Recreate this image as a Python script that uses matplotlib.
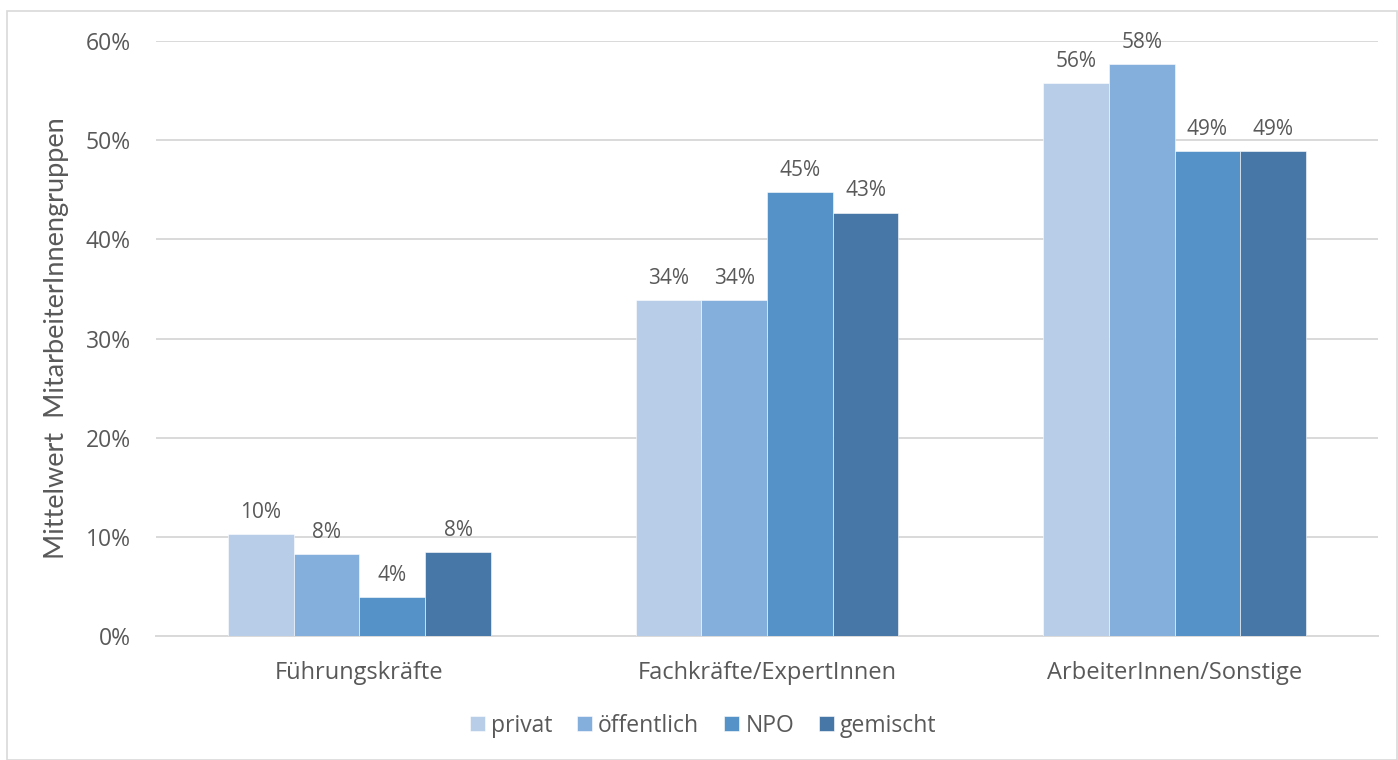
import matplotlib
matplotlib.use("Agg")
import matplotlib.pyplot as plt
from matplotlib.patches import Rectangle
from matplotlib.ticker import FuncFormatter
import numpy as np

plt.rcParams['font.family'] = ['Open Sans', 'DejaVu Sans']

categories = ["Führungskräfte", "Fachkräfte/ExpertInnen", "ArbeiterInnen/Sonstige"]
series = ["privat", "öffentlich", "NPO", "gemischt"]
privat = [10.3, 33.9, 55.8]
oeffentlich = [8.3, 33.9, 57.7]
npo = [3.9, 44.8, 48.9]
gemischt = [8.5, 42.7, 48.9]
values = [privat, oeffentlich, npo, gemischt]
colors = ["#B7CDE8", "#84AEDB", "#5592C8", "#4677A6"]

text_color = "#595959"
grid_color = "#D9D9D9"

fig = plt.figure(figsize=(13.98, 7.6), dpi=100)
ax = fig.add_axes([0.1114, 0.1632, 0.8745, 0.7828])

x = np.arange(len(categories))
group_w = 0.645
bar_w = group_w / len(series)
for i, (name, vals, col) in enumerate(zip(series, values, colors)):
    pos = x - group_w / 2 + bar_w * (i + 0.5)
    bars = ax.bar(pos, vals, width=bar_w, color=col, label=name,
                  edgecolor="white", linewidth=0.4, zorder=3)
    for b, v in zip(bars, vals):
        ax.annotate(f"{v:.0f}%", (b.get_x() + b.get_width() / 2, v),
                    xytext=(0, 8), textcoords="offset points",
                    ha="center", va="bottom", fontsize=15, color=text_color)

ax.set_xlim(-0.5, len(categories) - 0.5)
ax.set_ylim(0, 60)
ax.set_yticks(np.arange(0, 61, 10))
ax.yaxis.set_major_formatter(FuncFormatter(lambda v, p: f"{v:.0f}%"))
ax.grid(axis="y", color=grid_color, linewidth=1.4, zorder=0)
ax.set_axisbelow(True)
for s in ["top", "right", "left"]:
    ax.spines[s].set_visible(False)
ax.spines["bottom"].set_color(grid_color)
ax.spines["bottom"].set_linewidth(1.4)
ax.tick_params(axis="y", length=0, pad=18, labelsize=16.5, labelcolor=text_color)
ax.tick_params(axis="x", length=0, pad=18, labelsize=17, labelcolor=text_color)
ax.set_xticks(x)
ax.set_xticklabels(categories)
ax.set_ylabel("Mittelwert  MitarbeiterInnengruppen", fontsize=19.5,
              family=["Lato", "DejaVu Sans"], color=text_color, labelpad=12)

leg = fig.legend(loc="center", bbox_to_anchor=(0.503, 0.045), ncol=4,
                 frameon=False, fontsize=16.5, handlelength=0.65,
                 handleheight=0.65, handletextpad=0.26, columnspacing=1.1)
for t in leg.get_texts():
    t.set_color(text_color)

fig.patches.append(Rectangle((7 / 1398, 0), 1 - 8 / 1398, 1 - 11 / 760,
                             transform=fig.transFigure, fill=False,
                             edgecolor=grid_color, linewidth=1.2))

fig.savefig("out.png", dpi=100, facecolor="white")
